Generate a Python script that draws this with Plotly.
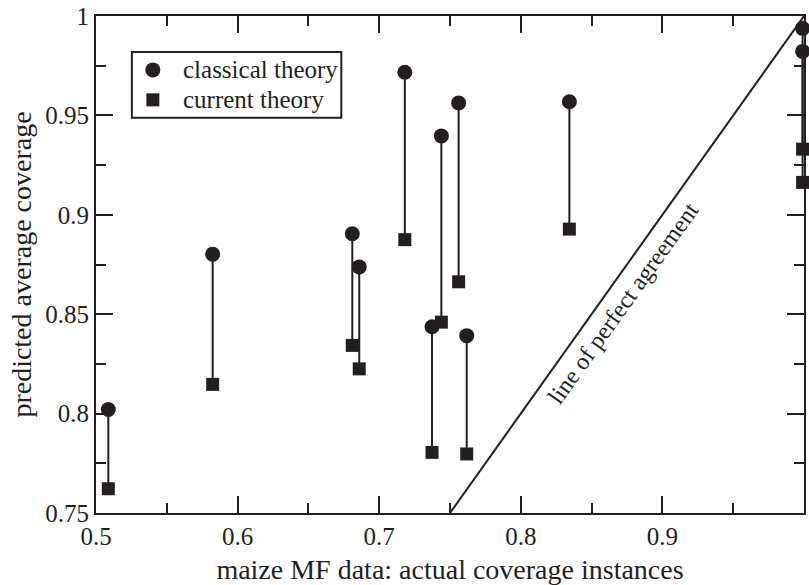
import plotly.graph_objects as go

# Actual coverage on the maize MF data, and the coverage predicted by each theory
actual = [0.5087, 0.5824, 0.6810, 0.6859, 0.7181, 0.7373, 0.7439, 0.7561, 0.7618, 0.8343, 0.9990, 0.9990]
classical = [0.8021, 0.8802, 0.8905, 0.8738, 0.9717, 0.8437, 0.9397, 0.9563, 0.8392, 0.9569, 0.9938, 0.9822]
current = [0.7622, 0.8147, 0.8343, 0.8225, 0.8875, 0.7805, 0.8460, 0.8663, 0.7797, 0.8928, 0.9330, 0.9163]

# Reference diagonal y = x over the visible window
diag_x = [0.75, 1.0]
diag_y = [0.75, 1.0]

legend_labels = ["classical theory", "current theory"]

INK = "#231f20"
FONT = "Liberation Serif"

W, H = 809, 585
ML, MR, MT, MB = 96, 3, 16, 71
PW, PH = W - ML - MR, H - MT - MB


def px_to_paper(px, py):
    return (px - ML) / PW, (H - MB - py) / PH


# Vertical connectors between the two predictions for each instance
seg_x, seg_y = [], []
for a, c, d in zip(actual, classical, current):
    seg_x += [a, a, None]
    seg_y += [c, d, None]

fig = go.Figure()
fig.add_trace(go.Scatter(x=seg_x, y=seg_y, mode="lines",
                         line=dict(color=INK, width=2), showlegend=False,
                         hoverinfo="skip", cliponaxis=False))
fig.add_trace(go.Scatter(x=diag_x, y=diag_y, mode="lines",
                         line=dict(color=INK, width=2), showlegend=False,
                         hoverinfo="skip"))
fig.add_trace(go.Scatter(x=actual, y=classical, mode="markers",
                         name=legend_labels[0], cliponaxis=False, showlegend=False,
                         marker=dict(symbol="circle", size=15, color=INK)))
fig.add_trace(go.Scatter(x=actual, y=current, mode="markers",
                         name=legend_labels[1], cliponaxis=False, showlegend=False,
                         marker=dict(symbol="square", size=13, color=INK)))

fig.add_annotation(x=0.8725, y=0.8555, xref="x", yref="y",
                   text="line of perfect agreement", showarrow=False,
                   textangle=-54.5, font=dict(family=FONT, size=24, color=INK))

# Legend box drawn in page pixels
bx0, by0 = px_to_paper(132, 52)
bx1, by1 = px_to_paper(342, 118)
fig.add_shape(type="rect", xref="paper", yref="paper", x0=bx0, x1=bx1, y0=by1, y1=by0,
              line=dict(color=INK, width=2), fillcolor="white", layer="above")
mx, my1 = px_to_paper(153, 70)
_, my2 = px_to_paper(153, 100)
fig.add_shape(type="circle", xref="paper", yref="paper", xsizemode="pixel", ysizemode="pixel",
              xanchor=mx, yanchor=my1, x0=-7.5, x1=7.5, y0=-7.5, y1=7.5,
              line=dict(width=0), fillcolor=INK, layer="above")
fig.add_shape(type="rect", xref="paper", yref="paper", xsizemode="pixel", ysizemode="pixel",
              xanchor=mx, yanchor=my2, x0=-6.5, x1=6.5, y0=-6.5, y1=6.5,
              line=dict(width=0), fillcolor=INK, layer="above")
tx, _ = px_to_paper(181, 70)
for label, ty in zip(legend_labels, [my1, my2]):
    fig.add_annotation(x=tx, y=ty, xref="paper", yref="paper", text=label,
                       showarrow=False, xanchor="left", yanchor="middle",
                       font=dict(family=FONT, size=25, color=INK))

axis_common = dict(
    showgrid=False, zeroline=False, showline=True, linecolor=INK, linewidth=2,
    mirror="ticks", ticks="inside", ticklen=17, tickwidth=2, tickcolor=INK,
    tickfont=dict(family=FONT, size=25, color=INK),
)

fig.update_xaxes(range=[0.5, 1.0], dtick=0.1, tick0=0.5,
                 minor=dict(dtick=0.05, ticks="inside", ticklen=10, tickwidth=2, tickcolor=INK),
                 title=dict(text="maize MF data: actual coverage instances",
                            font=dict(family=FONT, size=28, color=INK), standoff=12),
                 **axis_common)
fig.update_yaxes(range=[0.75, 1.0], dtick=0.05, tick0=0.75,
                 minor=dict(dtick=0.025, ticks="inside", ticklen=10, tickwidth=2, tickcolor=INK),
                 title=dict(text="predicted average coverage",
                            font=dict(family=FONT, size=28, color=INK), standoff=5),
                 **axis_common)

fig.update_layout(
    width=W, height=H,
    margin=dict(l=ML, r=MR, t=MT, b=MB),
    paper_bgcolor="white", plot_bgcolor="white",
    font=dict(family=FONT, color=INK),
    showlegend=False,
)

fig.write_html("out.html")
